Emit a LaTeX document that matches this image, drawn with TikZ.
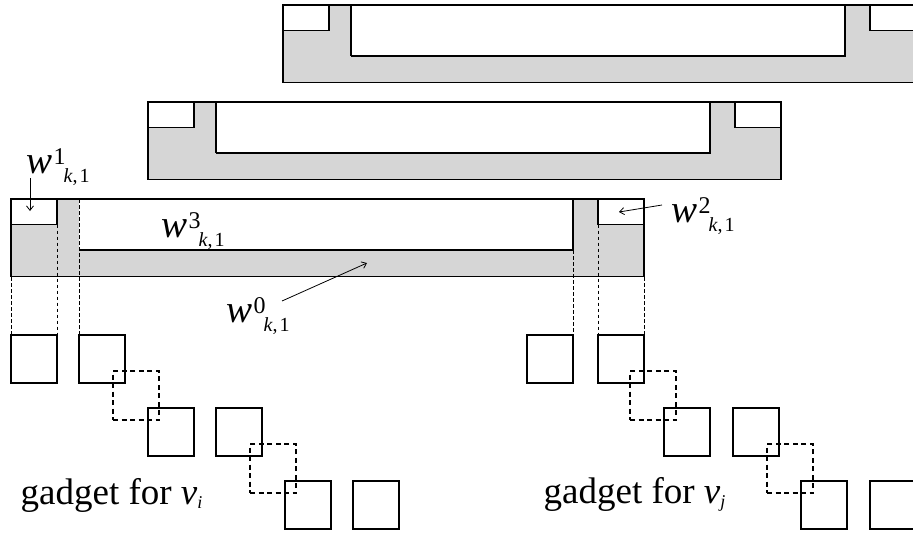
\documentclass[tikz,border=0pt]{standalone}
\usepackage{fontspec}
\setmainfont{Liberation Serif}
\usetikzlibrary{arrows.meta}
\definecolor{barfill}{RGB}{214,214,214}
\newcommand\wlab[1]{{\fontsize{39}{39}\selectfont\itshape w}\kern1pt\raisebox{9pt}{\fontsize{24}{24}\selectfont #1}\kern-2pt\raisebox{-9pt}{\fontsize{20}{20}\selectfont\itshape k\upshape,\kern2pt 1}}
\newcommand\gbar[3]{%
  \begin{scope}[shift={(#1,#2)}]
    \fill[barfill] (0,0) rectangle (633,77.5);
    \fill[white] (0,0) rectangle (46,25.5);
    \fill[white] (587,0) rectangle (633,25.5);
    \fill[white] (68,0) rectangle (562,51);
    \draw (0,25.5) -- (46,25.5) -- (46,0);
    \draw (587,0) -- (587,25.5) -- (633,25.5);
    \draw[#3] (68,0) -- (68,51);
    \draw (68,51) -- (562,51) -- (562,0);
    \draw (0,0) rectangle (633,77.5);
  \end{scope}}
\begin{document}
\begin{tikzpicture}[x=1pt,y=-1pt,line width=1.4pt,
  sq/.style={draw,line width=1.4pt,minimum width=46pt,minimum height=48pt,inner sep=0pt,outer sep=0pt,anchor=north west},
  dsq/.style={sq,minimum height=49pt,dash pattern=on 5pt off 3.5pt},
  dvert/.style={line width=1pt,dash pattern=on 3.5pt off 2.5pt},
  arr/.style={line width=0.8pt,-{Straight Barb[length=4.5pt,width=7pt]}},
  lab/.style={inner sep=0pt,anchor=base west},
  gad/.style={inner sep=0pt,anchor=base west,font=\fontsize{37}{37}\selectfont}]
\useasboundingbox (0,0) rectangle (913,533);
\fill[white] (0,0) rectangle (913,533);
% bars
\gbar{283}{5}{}
\gbar{148}{102}{}
\gbar{11}{199}{draw=none}
% squares left
\node[sq] (s1) at (11,335) {};
\node[sq] (s2) at (79,335) {};
\node[sq] (s3) at (148,408) {};
\node[sq] (s4) at (216,408) {};
\node[sq] (s5) at (285,481) {};
\node[sq] (s6) at (353,481) {};
\node[dsq] (d1) at (113,371) {};
\node[dsq] (d2) at (250,444) {};
% squares right
\node[sq] (r1) at (527,335) {};
\node[sq] (r2) at (598,335) {};
\node[sq] (r3) at (664,408) {};
\node[sq] (r4) at (733,408) {};
\node[sq] (r5) at (801,481) {};
\node[sq] (r6) at (870,481) {};
\node[dsq] (e1) at (630,371) {};
\node[dsq] (e2) at (767,444) {};
% dashed projections
\coordinate (p1) at (11,277);
\coordinate (p2) at (57,224.5);
\coordinate (p3) at (79,199);
\coordinate (p4) at (573,250);
\coordinate (p5) at (598,224.5);
\coordinate (p6) at (644,277);
\draw[dvert] (p1) -- (s1.north west);
\draw[dvert] (p2) -- (s1.north east);
\draw[dvert] (p3) -- (s2.north west);
\draw[dvert] (p4) -- (r1.north east);
\draw[dvert] (p5) -- (r2.north west);
\draw[dvert] (p6) -- (r2.north east);
% labels
\node[lab] (w1) at (26,173) {\wlab{1}};
\node[lab] (w2) at (671,222) {\wlab{2}};
\node[lab] (w3) at (161,237) {\wlab{3}};
\node[lab] (w0) at (226,322) {\wlab{0}};
\coordinate (a1s) at (30,178);
\coordinate (a1e) at (30,211);
\coordinate (a2s) at (662,205);
\coordinate (a2e) at (619,212);
\coordinate (a0s) at (282,301);
\coordinate (a0e) at (367,263);
\draw[arr] (a1s) -- (a1e);
\draw[arr] (a2s) -- (a2e);
\draw[arr] (a0s) -- (a0e);
% gadget labels
\node[gad] (gi) at (20,504) {gadget for \textit{v}\raisebox{-4pt}{\fontsize{18}{18}\selectfont\itshape i}};
\node[gad] (gj) at (543,503) {gadget for \textit{v}\raisebox{-4pt}{\fontsize{18}{18}\selectfont\itshape j}};
\end{tikzpicture}
\end{document}
